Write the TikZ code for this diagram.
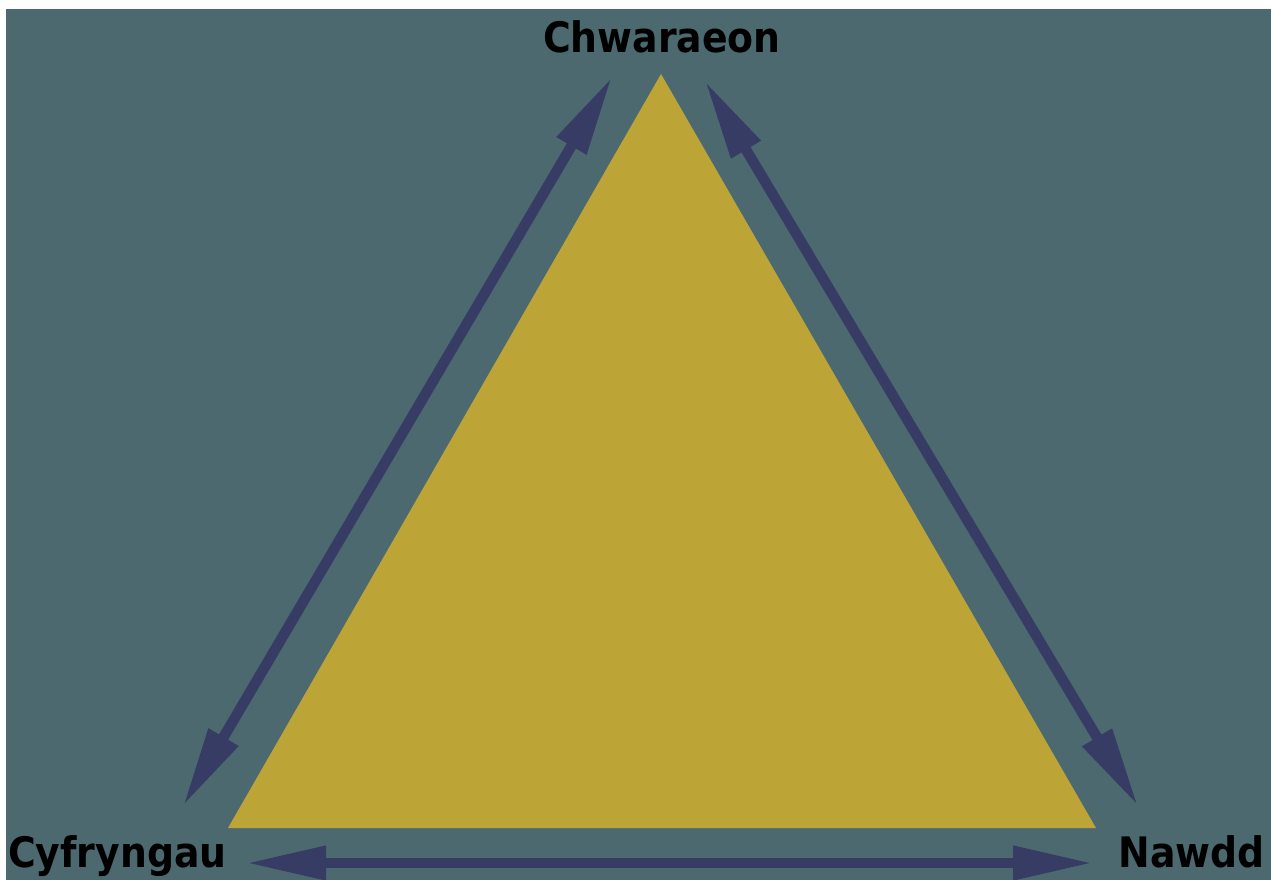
\documentclass[tikz,border=0pt]{standalone}
\usepackage{fontspec}
\setmainfont{DejaVu Sans Condensed}
\usetikzlibrary{arrows.meta}
\definecolor{bgc}{RGB}{77,105,112}
\definecolor{goldc}{RGB}{188,164,55}
\definecolor{navyc}{RGB}{54,60,100}
\tikzset{
  lbl/.style={inner sep=0pt, text=black, font=\fontsize{42}{44}\selectfont\bfseries},
  dbl/.style={draw=navyc, line width=10.5pt,
    {Triangle[length=80pt,width=32pt]}-{Triangle[length=80pt,width=32pt]}}
}
\begin{document}
\begin{tikzpicture}[x=1pt,y=-1pt]
\useasboundingbox (0,0) rectangle (1271,880);
\fill[white] (0,0) rectangle (1271,880);
\fill[bgc] (6,9) rectangle (1271,880);
\fill[goldc] (661,74) -- (1096,828) -- (228,828) -- cycle;
\coordinate (la) at (612,77);
\coordinate (lb) at (183,806);
\coordinate (ra) at (705,81);
\coordinate (rb) at (1138,806);
\coordinate (ba) at (246,863);
\coordinate (bb) at (1093,863);
\draw[dbl] (la) -- (lb);
\draw[dbl] (ra) -- (rb);
\draw[dbl] (ba) -- (bb);
\node[lbl, anchor=base] (top) at (662,53) {Chwaraeon};
\node[lbl, anchor=base west] (left) at (8,867) {Cyfryngau};
\node[lbl, anchor=base east] (right) at (1265,867) {Nawdd};
\end{tikzpicture}
\end{document}
